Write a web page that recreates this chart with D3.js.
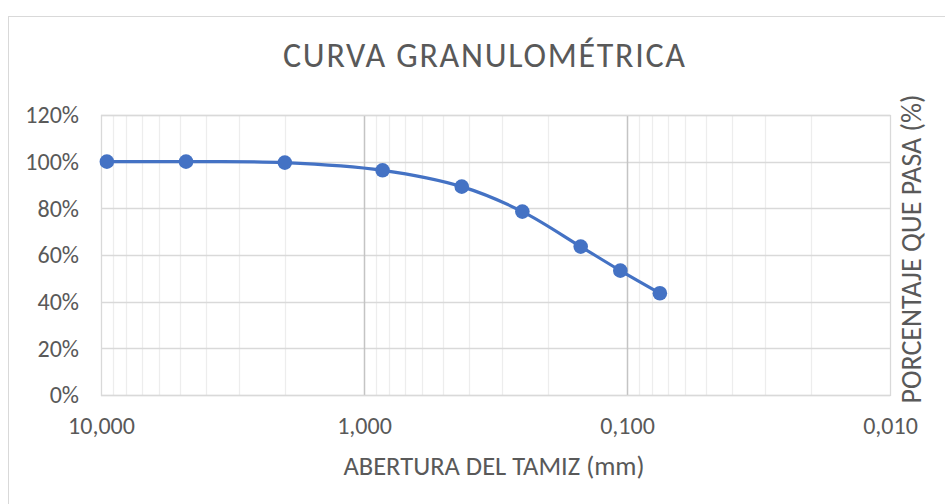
<!DOCTYPE html>
<html>
<head>
<meta charset="utf-8">
<script src="https://cdn.jsdelivr.net/npm/d3@7"></script>
<style>
  body { margin: 0; background: #fff; }
  text { font-family: Carlito, Lato, "Open Sans", sans-serif; fill: #595959; }
</style>
</head>
<body>
<script>
// data
let aberturas = [9.5, 4.75, 2.0, 0.85, 0.425, 0.25, 0.15, 0.106, 0.075]; // mm
let pasa = [100, 100, 99.6, 96.3, 89.3, 78.6, 63.6, 53.3, 43.6];       // %
let xTicks = [10, 1, 0.1, 0.01];
let yTicks = [0, 20, 40, 60, 80, 100, 120];

let svgWidth = 945, svgHeight = 504;
let plot = { left: 101, top: 115, right: 890, bottom: 395 };

let svg = d3.select("body").append("svg")
  .attr("width", svgWidth)
  .attr("height", svgHeight);

// chart frame
svg.append("rect")
  .attr("x", 8.5).attr("y", 16.5)
  .attr("width", svgWidth).attr("height", svgHeight)
  .attr("fill", "#fff").attr("stroke", "#d9d9d9");

let xScale = d3.scaleLog()
  .domain([10, 0.01])
  .range([plot.left, plot.right]);
let yScale = d3.scaleLinear()
  .domain([0, 120])
  .range([plot.bottom, plot.top]);

// minor vertical gridlines (2..9 of each decade)
let minor = [];
[0.01, 0.1, 1].forEach(d => { for (let k = 2; k <= 9; k++) minor.push(d * k); });
svg.append("g").selectAll("line").data(minor).join("line")
  .attr("x1", d => Math.round(xScale(d)) + 0.5)
  .attr("x2", d => Math.round(xScale(d)) + 0.5)
  .attr("y1", plot.top).attr("y2", plot.bottom)
  .attr("stroke", "#ededed").attr("stroke-width", 1.3);

// horizontal gridlines
svg.append("g").selectAll("line").data(yTicks).join("line")
  .attr("x1", plot.left).attr("x2", plot.right)
  .attr("y1", d => Math.round(yScale(d)) + 0.5)
  .attr("y2", d => Math.round(yScale(d)) + 0.5)
  .attr("stroke", "#d9d9d9").attr("stroke-width", 1.3);

// major vertical gridlines
svg.append("g").selectAll("line").data([1, 0.1]).join("line")
  .attr("x1", d => Math.round(xScale(d)) + 0.5)
  .attr("x2", d => Math.round(xScale(d)) + 0.5)
  .attr("y1", plot.top).attr("y2", plot.bottom)
  .attr("stroke", "#c4c4c4").attr("stroke-width", 1.5);

// plot border
svg.append("rect")
  .attr("x", plot.left + 0.5).attr("y", plot.top + 0.5)
  .attr("width", plot.right - plot.left).attr("height", plot.bottom - plot.top)
  .attr("fill", "none").attr("stroke", "#d9d9d9").attr("stroke-width", 1.3);

// axes (labels only)
let es = d3.formatLocale({ decimal: ",", thousands: ".", grouping: [3], currency: ["", ""] });
let xAxis = d3.axisBottom(xScale).tickValues(xTicks)
  .tickFormat(es.format(".3f")).tickSize(0).tickPadding(22);
let xAxisG = svg.append("g")
  .attr("transform", `translate(0, ${plot.bottom})`)
  .call(xAxis);
let yAxis = d3.axisLeft(yScale).tickValues(yTicks)
  .tickFormat(d => d + "%").tickSize(0).tickPadding(22);
let yAxisG = svg.append("g")
  .attr("transform", `translate(${plot.left}, 0)`)
  .call(yAxis);
[xAxisG, yAxisG].forEach(g => {
  g.select(".domain").remove();
  g.selectAll("text").attr("font-size", 24).attr("fill", "#595959")
    .style("font-family", "Carlito, Lato, 'Open Sans', sans-serif");
});

// curve
let pts = aberturas.map((d, i) => [xScale(d), yScale(pasa[i])]);
svg.append("path")
  .attr("d", d3.line().curve(d3.curveCatmullRom.alpha(0.5))(pts))
  .attr("fill", "none")
  .attr("stroke", "#4472c4")
  .attr("stroke-width", 3.2);
svg.append("g").selectAll("circle").data(pts).join("circle")
  .attr("cx", d => d[0]).attr("cy", d => d[1])
  .attr("r", 7.3)
  .attr("fill", "#4472c4");

// title
svg.append("text").text("CURVA GRANULOMÉTRICA")
  .attr("x", 484).attr("y", 67)
  .attr("text-anchor", "middle")
  .attr("font-size", 34)
  .attr("textLength", 402);

// x label
svg.append("text").text("ABERTURA DEL TAMIZ (mm)")
  .attr("x", 494).attr("y", 475)
  .attr("text-anchor", "middle")
  .attr("font-size", 26.5);

// y label (right side)
svg.append("g")
  .attr("transform", `translate(921, 249)`)
  .append("text").text("PORCENTAJE QUE PASA (%)")
  .attr("text-anchor", "middle")
  .attr("transform", "rotate(-90)")
  .attr("font-size", 28);
</script>
</body>
</html>
